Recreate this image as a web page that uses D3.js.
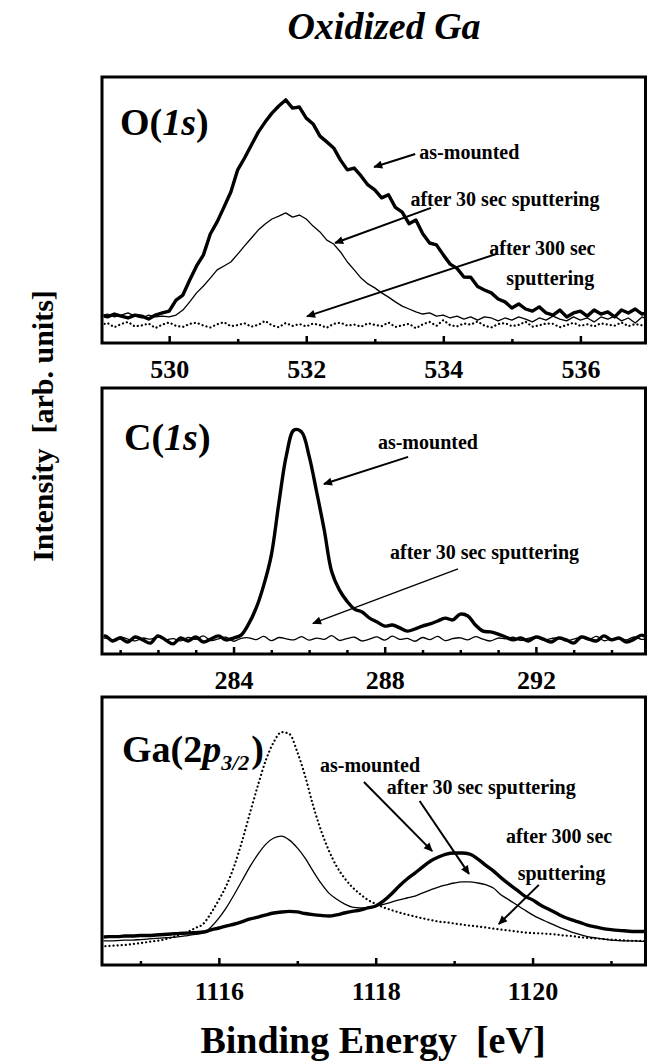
<!DOCTYPE html>
<html><head><meta charset="utf-8">
<script src="https://cdn.jsdelivr.net/npm/d3@7"></script>
<style>
body{margin:0;background:#fff}
svg{display:block}
text{font-family:"Liberation Serif","Times New Roman",serif;font-weight:bold;fill:#000}
</style>
</head><body><svg id="c" width="648" height="1063"></svg>
<script>
// ---------- DATA ----------
// O(1s): energy grid starts 529.0 eV, step 0.1 eV
const o1sStart = 529.0, o1sStep = 0.1;
const o1sAsMounted = [10.2,9.5,10.6,9.8,9.1,10.2,9.8,8.7,10.2,11.0,
11.7,15.9,17.8,23.5,28.8,33.0,40.9,45.5,51.1,56.8,
65.2,69.7,74.6,79.5,83.3,86.7,89.4,91.7,88.6,89.0,
84.8,82.6,78.0,75.8,73.5,68.9,65.2,65.9,62.9,59.5,
57.6,54.6,55.8,51.0,49.2,44.8,46.2,41.0,37.5,36.8,
33.0,29.5,27.9,24.6,24.5,21.0,19.7,18.6,16.3,15.2,
12.9,14.4,12.5,11.7,13.3,11.0,10.2,12.1,9.5,11.0,
11.7,9.8,12.1,10.6,11.4,9.5,12.1,11.0,12.5,10.6,
11.4];
const o1sAfter30 = [9.8,10.6,9.5,10.2,11.0,9.8,9.1,10.2,9.5,9.8,
9.5,10.2,12.1,15.2,18.6,21.2,24.2,27.3,28.8,30.3,
33.3,36.4,39.4,42.4,44.7,46.6,47.7,48.9,47.3,48.1,
46.6,43.9,41.7,38.6,37.1,34.1,30.3,27.3,24.2,22.0,
20.5,18.6,17.0,15.2,13.6,12.5,11.4,10.6,11.0,9.8,
10.2,9.1,9.8,8.7,9.5,8.3,9.5,9.1,8.0,9.1,
8.3,9.5,8.7,7.6,9.1,8.3,9.8,8.7,8.0,9.5,
8.3,9.1,7.6,9.5,8.7,9.8,8.0,9.1,7.2,9.5,
8.3];
const o1sAfter300 = [6.4,7.2,5.6,6.8,7.6,5.9,6.3,7.0,5.3,6.6,
7.4,6.1,5.7,6.9,7.3,6.2,5.5,6.7,7.5,6.0,
6.4,7.1,5.8,6.5,8.0,6.3,5.6,7.2,6.1,6.8,
5.9,7.0,6.4,5.4,6.9,7.3,6.2,6.6,5.8,7.1,
6.5,6.0,7.4,5.7,6.3,6.9,5.2,6.7,7.6,6.1,
8.3,6.4,5.9,7.0,6.6,7.8,6.2,5.5,6.8,7.2,
6.0,6.5,7.7,5.8,6.3,7.0,6.9,5.6,6.4,7.3,
6.1,6.7,5.9,7.1,6.6,6.2,7.4,6.0,6.8,6.3,
7.0];
const o1sMajor = [530,532,534,536];
const o1sMinor = [531,533,535];

// C(1s): energy grid starts 280.4 eV, step 0.2 eV
const c1sStart = 280.4, c1sStep = 0.2;
const c1sAsMounted = [5.3,6.8,4.9,6.0,4.5,6.4,5.3,4.1,6.8,5.3,
3.8,6.0,4.9,6.4,4.5,5.6,6.8,5.3,6.0,7.1,
11.3,17.3,25.9,37.2,56.8,74.8,84.2,83.5,74.4,60.9,
46.6,30.8,24.1,19.9,16.9,15.8,13.5,12.0,10.5,10.9,
9.8,8.6,9.4,10.5,11.3,12.4,13.5,12.8,15.0,14.3,
10.9,8.6,8.3,7.5,6.4,5.3,6.0,4.9,6.4,5.6,
4.5,6.0,5.3,4.1,6.4,5.6,4.9,6.8,5.3,6.0,
4.5,5.6,7.1,5.3];
const c1sAfter30 = [5.6,6.0,5.3,6.4,5.6,4.9,6.0,5.6,6.4,5.3,
5.8,4.9,6.2,5.5,6.8,5.1,5.7,6.3,4.8,5.9,
6.1,5.4,6.6,5.0,6.2,5.7,5.3,6.5,5.2,6.0,
5.5,6.9,5.1,5.8,6.3,4.9,5.6,6.4,5.2,6.7,
5.5,5.9,4.8,6.2,5.4,6.6,5.0,5.8,6.1,5.3,
6.5,5.6,4.9,6.0,5.7,6.3,5.1,5.9,6.4,5.2,
5.8,6.1,4.9,5.6,6.2,5.4,6.6,5.0,5.7,6.0,
5.3,6.4,5.5,5.9];
const c1sMajor = [284,288,292];
const c1sMinor = [281,282,283,285,286,287,289,290,291,293,294];

// Ga(2p3/2): energy grid starts 1114.5 eV, step 0.1 eV
const gaStart = 1114.5, gaStep = 0.1;
const gaAsMounted = [10.4,10.6,10.6,10.8,10.8,11.0,11.0,11.2,11.4,11.6,
11.8,11.9,12.1,12.3,13.1,13.8,14.6,15.3,16.2,17.2,
17.9,18.7,19.4,19.8,20.0,19.8,19.2,18.8,18.5,18.3,
18.7,19.4,20.0,20.5,21.3,22.0,23.9,26.5,29.5,32.1,
34.3,36.6,38.8,40.3,41.4,41.8,41.8,41.4,39.6,37.3,
35.1,32.5,30.2,28.0,25.7,24.3,22.4,20.9,19.4,17.9,
16.8,15.9,14.9,14.2,13.6,13.2,12.9,12.7,12.5,12.5,
12.3];
const gaAfter30 = [9.0,9.0,9.1,9.3,9.3,9.5,9.7,9.9,10.1,10.3,
10.6,11.0,11.4,11.9,14.2,17.5,21.6,26.5,31.7,36.9,
41.4,45.1,47.4,48.1,46.6,43.7,39.9,35.1,30.6,26.9,
24.6,22.8,21.6,21.3,21.5,22.0,22.6,23.5,24.3,25.0,
25.7,26.9,28.0,29.1,29.9,30.6,31.0,31.0,30.6,30.0,
28.7,26.1,24.3,22.4,20.5,18.7,17.2,15.9,14.6,13.4,
12.3,11.4,10.6,10.1,9.7,9.3,9.1,9.0,9.0,8.8,
8.8];
const gaAfter300 = [6.9,7.1,7.3,7.5,7.8,8.2,8.6,9.0,9.5,10.3,
11.2,12.3,13.8,15.3,19.4,24.3,29.9,37.3,46.6,57.1,
67.2,76.5,83.2,86.9,86.2,79.5,70.5,59.7,50.4,42.9,
36.9,32.5,29.1,26.5,24.3,22.8,21.5,20.5,19.6,18.8,
18.1,17.4,16.8,16.2,15.9,15.5,15.1,14.7,14.4,14.0,
13.6,13.2,12.9,12.5,12.1,11.9,11.8,11.6,11.4,11.0,
10.8,10.4,10.1,9.9,9.7,9.5,9.3,9.1,9.0,9.0,
8.8];
const gaMajor = [1116,1118,1120];
const gaMinor = [1115,1117,1119,1121];

const titleText = "Oxidized Ga";
const xLabel = "Binding Energy  [eV]";
const yLabel = "Intensity  [arb. units]";

// ---------- LAYOUT ----------
const svg = d3.select("#c");
const L = 102, R = 645.5;

const defs = svg.append("defs");
defs.append("marker").attr("id","ah").attr("viewBox","0 0 10 10")
  .attr("refX",9).attr("refY",5).attr("markerUnits","userSpaceOnUse")
  .attr("markerWidth",12).attr("markerHeight",9).attr("orient","auto")
  .append("path").attr("d","M0,0.5 L10,5 L0,9.5 Z").attr("fill","#000");

const panels = [
  { key:"o1s", top:77, bottom:343, yr:[342,78], domain:[529.02,536.95], major:o1sMajor, minor:o1sMinor,
    start:o1sStart, step:o1sStep, curve:d3.curveLinear,
    series:[{v:o1sAfter300,s:"dot"},{v:o1sAfter30,s:"thin"},{v:o1sAsMounted,s:"thick"}],
    label:[{t:"O(",i:false},{t:"1s",i:true},{t:")",i:false}], lx:120, ly:135,
    notes:[
      {lines:["as-mounted"], x:533.65, y:69.3, from:[533.59,71.2], to:[532.99,66.3], w:2},
      {lines:["after 30 sec sputtering"], x:533.52, y:51.5, from:[533.82,50.8], to:[532.42,37.5], w:2},
      {lines:["after 300 sec","sputtering"], x:534.67, y:33.0, x2:534.92, y2:21.6, from:[534.77,33.3], to:[532.01,9.7], w:2}
    ]},
  { key:"c1s", top:388, bottom:654, yr:[654,388], domain:[280.52,294.9], major:c1sMajor, minor:c1sMinor,
    start:c1sStart, step:c1sStep, curve:d3.curveCatmullRom.alpha(0.5),
    series:[{v:c1sAfter30,s:"thin"},{v:c1sAsMounted,s:"thick"}],
    label:[{t:"C(",i:false},{t:"1s",i:true},{t:")",i:false}], lx:124, ly:450,
    notes:[
      {lines:["as-mounted"], x:287.82, y:77.1, from:[288.62,74.1], to:[286.39,63.9], w:2},
      {lines:["after 30 sec sputtering"], x:288.14, y:35.7, from:[289.94,32.0], to:[286.1,11.5], w:1.3}
    ]},
  { key:"ga", top:697, bottom:965, yr:[965,697], domain:[1114.51,1121.44], major:gaMajor, minor:gaMinor,
    start:gaStart, step:gaStep, curve:d3.curveMonotoneX,
    series:[{v:gaAfter300,s:"dot"},{v:gaAfter30,s:"thin"},{v:gaAsMounted,s:"thick"}],
    label:null, lx:122, ly:762,
    notes:[
      {lines:["as-mounted"], x:1117.29, y:72.0, from:[1117.85,68.3], to:[1118.72,42.5], w:2},
      {lines:["after 30 sec sputtering"], x:1118.14, y:63.8, from:[1118.56,61.2], to:[1119.19,34.0], w:2},
      {lines:["after 300 sec","sputtering"], x:1119.66, y:45.5, x2:1119.81, y2:31.7, from:[1120.08,29.9], to:[1119.57,15.3], w:2}
    ]}
];

const styles = {
  thick:{w:3.4, dash:null},
  thin:{w:1.3, dash:null},
  dot:{w:2.2, dash:"0.1,4"}
};

panels.forEach((p, pi) => {
  const x = d3.scaleLinear().domain(p.domain).range([L, R]);
  const y = d3.scaleLinear().domain([0,100]).range(p.yr);
  const g = svg.append("g");

  defs.append("clipPath").attr("id","clip"+pi).append("rect")
    .attr("x",L+1.5).attr("y",p.top+1.5).attr("width",R-L-3).attr("height",p.bottom-p.top-3);

  const line = d3.line().x(d=>x(d[0])).y(d=>y(d[1])).curve(p.curve);
  const cg = g.append("g").attr("clip-path","url(#clip"+pi+")");
  p.series.forEach(se => {
    const pts = se.v.map((v,i)=>[p.start + i*p.step, v]);
    const st = styles[se.s];
    cg.append("path").attr("d", line(pts)).attr("fill","none").attr("stroke","#000")
      .attr("stroke-width", st.w).attr("stroke-linejoin","round")
      .attr("stroke-linecap", se.s==="dot" ? "round" : "butt")
      .attr("stroke-dasharray", st.dash);
  });

  // frame
  g.append("rect").attr("x",L).attr("y",p.top).attr("width",R-L).attr("height",p.bottom-p.top)
    .attr("fill","none").attr("stroke","#000").attr("stroke-width",3);

  // axes (ticks point inward)
  const axMaj = d3.axisBottom(x).tickValues(p.major).tickSize(-7).tickPadding(17).tickFormat(d3.format("d"));
  const axMin = d3.axisBottom(x).tickValues(p.minor).tickSize(-4).tickFormat("");
  const ga = g.append("g").attr("transform",`translate(0,${p.bottom})`).call(axMaj);
  const gb = g.append("g").attr("transform",`translate(0,${p.bottom})`).call(axMin);
  [ga,gb].forEach(a=>{ a.select(".domain").remove(); a.selectAll(".tick line").attr("stroke","#000").attr("stroke-width",2.5); });
  ga.selectAll(".tick text").attr("font-size",26).attr("font-family","Liberation Serif").attr("font-weight","bold").attr("fill","#000");

  // panel label
  const lt = g.append("text").attr("x",p.lx).attr("y",p.ly).attr("font-size",38);
  if (p.label) {
    p.label.forEach(s => lt.append("tspan").text(s.t).attr("font-style", s.i?"italic":"normal"));
  } else {
    lt.append("tspan").text("Ga(2");
    lt.append("tspan").text("p").attr("font-style","italic");
    lt.append("tspan").text("3/2").attr("font-style","italic").attr("font-size",22).attr("dy",8);
    lt.append("tspan").text(")").attr("dy",-8).attr("dx",2);
  }

  // annotations
  p.notes.forEach(n => {
    g.append("line").attr("x1",x(n.from[0])).attr("y1",y(n.from[1]))
      .attr("x2",x(n.to[0])).attr("y2",y(n.to[1]))
      .attr("stroke","#000").attr("stroke-width",n.w).attr("marker-end","url(#ah)");
    g.append("text").attr("x",x(n.x)).attr("y",y(n.y)).attr("font-size",20).text(n.lines[0]);
    if (n.lines.length>1) g.append("text").attr("x",x(n.x2)).attr("y",y(n.y2)).attr("font-size",20).text(n.lines[1]);
  });
});

// title & axis labels
svg.append("text").attr("x",384).attr("y",39).attr("text-anchor","middle")
  .attr("font-size",38).attr("font-style","italic").text(titleText);
svg.append("text").attr("x",373).attr("y",1053).attr("text-anchor","middle")
  .attr("font-size",38).style("white-space","pre").text(xLabel);
svg.append("text").attr("transform","translate(53,426) rotate(-90)").attr("text-anchor","middle")
  .attr("font-size",30).style("white-space","pre").text(yLabel);
</script>
</body></html>
